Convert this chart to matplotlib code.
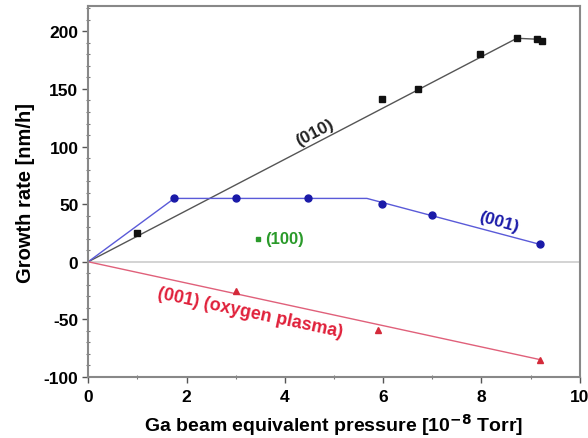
import matplotlib
matplotlib.use("Agg")
import matplotlib.pyplot as plt
from matplotlib.ticker import MultipleLocator

plt.rcParams['font.family'] = ['Liberation Sans', 'DejaVu Sans']
plt.rcParams['font.weight'] = 'bold'
plt.rcParams['axes.unicode_minus'] = False

# (010) data and fit
x010 = [1.0, 5.98, 6.7, 7.97, 8.72, 9.13, 9.23]
y010 = [25, 141, 150, 180, 194, 193, 192]
fx010 = [0, 8.72, 9.23]
fy010 = [0, 194, 193]

# (001) data and guide line
x001 = [1.75, 3.0, 4.47, 5.98, 7.0, 9.2]
y001 = [55, 55, 55, 50, 41, 15]
fx001 = [0, 1.75, 5.67, 9.2]
fy001 = [0, 55, 55, 15]

# (001) oxygen plasma
xox = [3.0, 5.9, 9.2]
yox = [-25, -59, -85]
fxox = [0, 9.2]
fyox = [0, -85]

# (100)
x100 = [3.45]
y100 = [20]

fig = plt.figure(figsize=(5.88, 4.39), dpi=100)
ax = fig.add_axes([0.150, 0.139, 0.836, 0.845])

ax.axhline(0, color='#cccccc', lw=1.2, zorder=1)

ax.plot(fx010, fy010, color='#555555', lw=1.0, zorder=2)
ax.plot(x010, y010, 's', color='#111111', ms=5, zorder=3)

ax.plot(fx001, fy001, color='#5a5ad8', lw=1.0, zorder=2)
ax.plot(x001, y001, 'o', color='#1a1aa8', ms=5, zorder=3)

ax.plot(fxox, fyox, color='#e0607a', lw=1.0, zorder=2)
ax.plot(xox, yox, '^', color='#d42a3a', ms=5, zorder=3)

ax.plot(x100, y100, 's', color='#2a9a2a', ms=3, zorder=3)

ax.text(4.6, 113, '(010)', color='#222222', fontsize=12.5, fontweight='bold',
        rotation=27.5, ha='center', va='center', rotation_mode='anchor')
ax.text(8.35, 35, '(001)', color='#1a1aa8', fontsize=12.5, fontweight='bold',
        rotation=-16, ha='center', va='center', rotation_mode='anchor')
ax.text(3.3, -44, '(001) (oxygen plasma)', color='#e0203a', fontsize=13,
        fontweight='bold', rotation=-12, ha='center', va='center',
        rotation_mode='anchor')
ax.text(3.6, 20, '(100)', color='#2a9a2a', fontsize=12, fontweight='bold',
        ha='left', va='center')

ax.set_xlim(0, 10)
ax.set_ylim(-100, 222)
ax.xaxis.set_major_locator(MultipleLocator(2))
ax.xaxis.set_minor_locator(MultipleLocator(1))
ax.yaxis.set_major_locator(MultipleLocator(50))
ax.yaxis.set_minor_locator(MultipleLocator(10))
ax.tick_params(which='major', direction='out', length=4, width=1,
               labelsize=12.5, color='#555555', pad=3)
ax.tick_params(axis='x', which='major', pad=5)
ax.tick_params(which='minor', direction='inout', length=3, width=0.8,
               color='#777777')
ax.tick_params(top=False, right=False, which='both')
for lab in ax.get_xticklabels() + ax.get_yticklabels():
    lab.set_fontweight('bold')

for s in ax.spines.values():
    s.set_color('#888888')
    s.set_linewidth(1.5)

ax.set_xlabel('Ga beam equivalent pressure [10$^{\\mathbf{-8}}$ Torr]',
              fontsize=14, fontweight='bold', labelpad=5)
ax.set_ylabel('Growth rate [nm/h]', fontsize=14.5, fontweight='bold', labelpad=6)

fig.savefig('out.png', dpi=100)
